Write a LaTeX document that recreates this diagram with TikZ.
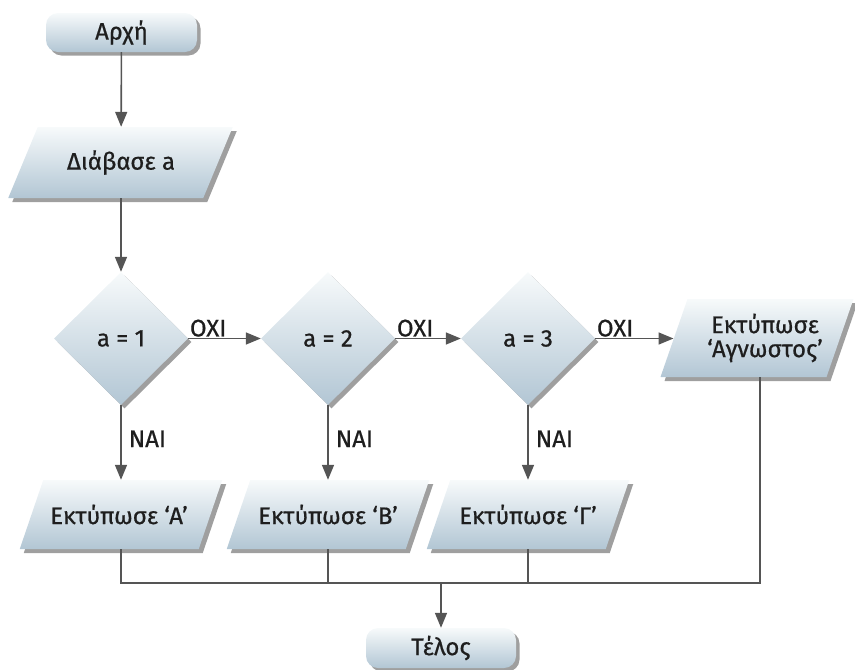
\documentclass[tikz,border=0pt]{standalone}
\usepackage{fontspec}
\setmainfont{Fira Sans}[FakeBold=0.7]
\usetikzlibrary{shapes.geometric,arrows.meta,shadows}
\definecolor{topc}{HTML}{F7FAFB}
\definecolor{botc}{HTML}{B2C6D4}
\definecolor{linec}{HTML}{555555}
\definecolor{txtc}{HTML}{1E1E1E}
\definecolor{shadc}{HTML}{7F7F7F}
\newcommand\pgram[5]{%
  \fill[shadc,opacity=.75] ({#1-#3+#5/2+4},{#2-#4+4}) -- ({#1+#3+#5/2+4},{#2-#4+4}) -- ({#1+#3-#5/2+4},{#2+#4+4}) -- ({#1-#3-#5/2+4},{#2+#4+4}) -- cycle;
  \shade[top color=topc,bottom color=botc] ({#1-#3+#5/2},{#2-#4}) -- ({#1+#3+#5/2},{#2-#4}) -- ({#1+#3-#5/2},{#2+#4}) -- ({#1-#3-#5/2},{#2+#4}) -- cycle;
}
\tikzset{
  txt/.style={text=txtc,font=\fontsize{24}{24}\selectfont},
  term/.style={txt,rectangle,rounded corners=12pt,minimum width=151pt,minimum height=39pt,inner sep=0pt,
    top color=topc,bottom color=botc,drop shadow={shadow xshift=3.5pt,shadow yshift=-3.5pt,fill=shadc,opacity=.75}},
  cond/.style={txt,diamond,aspect=1,minimum width=134pt,minimum height=133pt,inner sep=0pt,
    top color=topc,bottom color=botc,drop shadow={shadow xshift=3.5pt,shadow yshift=-3.5pt,fill=shadc,opacity=.75}},
  io/.style={txt,rectangle,inner sep=0pt,minimum width=10pt,align=center},
  conn/.style={draw=linec,line width=1.6pt},
  arr/.style={conn,-{Triangle[length=15pt,width=12pt]}},
  lbl/.style={txt,inner sep=0pt},
}
\begin{document}
\begin{tikzpicture}[x=1pt,y=-1pt]
\useasboundingbox (0,0) rectangle (855,670);
% parallelogram bodies
\pgram{120.5}{162.5}{97.5}{35.5}{29.5}
\pgram{121}{514.5}{89.5}{34.5}{23.5}
\pgram{328}{514.5}{89.5}{34.5}{23.5}
\pgram{528}{514.5}{89.5}{34.5}{23.5}
\pgram{757}{338}{83}{39}{27}
% nodes
\node[term] (start) at (121.5,32.5) {Αρχή};
\node[io,minimum height=71pt] (read) at (121,162.5) {Διάβασε a};
\node[cond] (c1) at (121,338.5) {a = 1};
\node[cond] (c2) at (328,338.5) {a = 2};
\node[cond] (c3) at (528,338.5) {a = 3};
\node[io,minimum height=69pt] (pA) at (119,514.5) {Εκτύπωσε ‘Α’};
\node[io,minimum height=69pt] (pB) at (328,514.5) {Εκτύπωσε ‘Β’};
\node[io,minimum height=69pt] (pC) at (528,514.5) {Εκτύπωσε ‘Γ’};
\node[io,minimum height=78pt] (pD) at (760,338) {};
\node[txt,align=center,inner sep=0pt] (pDt) at (765,338) {Εκτύπωσε\\‘Αγνωστος’};
\node[term,minimum width=150pt,minimum height=40pt] (end) at (441,648) {Τέλος};
\coordinate (pDin) at (673.5,338.5);
\coordinate (jR) at (760,583);
\coordinate (jM) at (441,583);
% connectors
\draw[arr] (start) -- (read);
\draw[arr] (read) -- (c1);
\draw[arr] (c1.east) -- (c2.west) node[lbl,pos=0,anchor=south west,xshift=1pt,yshift=1pt] {ΟΧΙ};
\draw[arr] (c2.east) -- (c3.west) node[lbl,pos=0,anchor=south west,xshift=1pt,yshift=1pt] {ΟΧΙ};
\draw[arr] (c3.east) -- (pDin) node[lbl,pos=0,anchor=south west,xshift=1pt,yshift=1pt] {ΟΧΙ};
\draw[arr] (c1.south) -- (pA.north -| c1.south) node[lbl,pos=0.45,anchor=west,xshift=7pt] {ΝΑΙ};
\draw[arr] (c2.south) -- (pB.north) node[lbl,pos=0.45,anchor=west,xshift=7pt] {ΝΑΙ};
\draw[arr] (c3.south) -- (pC.north) node[lbl,pos=0.45,anchor=west,xshift=7pt] {ΝΑΙ};
\draw[conn] (pA.south -| c1.south) -- (c1.south |- jR) -- (jR) -- (pD.south);
\draw[conn] (pB.south) -- (pB.south |- jR);
\draw[conn] (pC.south) -- (pC.south |- jR);
\draw[arr] (jM) -- (end);
\end{tikzpicture}
\end{document}
